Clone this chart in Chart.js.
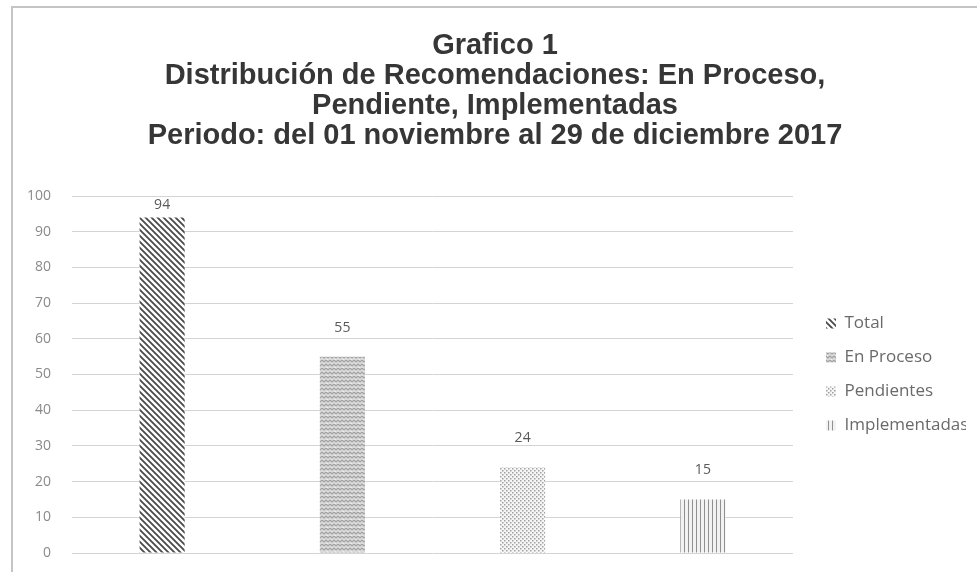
<!DOCTYPE html>
<html lang="es">
<head>
<meta charset="utf-8">
<script src="https://cdn.jsdelivr.net/npm/chart.js@4.4.0/dist/chart.umd.min.js"></script>
<style>
    html, body { margin: 0; padding: 0; background: #fff; }
    #wrap { width: 977px; height: 572px; position: relative; }
</style>
</head>
<body>
<div id="wrap"><canvas id="grafico"></canvas></div>
<script>
// Datos del grafico
const categorias = ['Total', 'En Proceso', 'Pendientes', 'Implementadas'];
const valores = [94, 55, 24, 15];
const ticksY = [0, 10, 20, 30, 40, 50, 60, 70, 80, 90, 100];
const titulo = [
    'Grafico 1',
    'Distribución de Recomendaciones: En Proceso,',
    'Pendiente, Implementadas',
    'Periodo: del 01 noviembre al 29 de diciembre 2017'
];

// Tramas (patterns) tipo Excel
function makePattern(size, draw) {
    const c = document.createElement('canvas');
    c.width = size; c.height = size;
    const g = c.getContext('2d');
    draw(g, size);
    return g.createPattern(c, 'repeat');
}

const tramaDiagonal = makePattern(6, (g, s) => {
    g.fillStyle = '#ffffff';
    g.fillRect(0, 0, s, s);
    g.strokeStyle = '#4a4a4a';
    g.lineWidth = 1.8;
    g.beginPath();
    g.moveTo(-1, -1); g.lineTo(s + 1, s + 1);
    g.moveTo(-1, s - 1); g.lineTo(1, s + 1);
    g.moveTo(s - 1, -1); g.lineTo(s + 1, 1);
    g.stroke();
});

const tramaZigzag = makePattern(8, (g, s) => {
    g.fillStyle = '#dadada';
    g.fillRect(0, 0, s, s);
    g.strokeStyle = '#a2a2a2';
    g.lineWidth = 1.2;
    g.beginPath();
    g.moveTo(0, 2); g.lineTo(2, 0); g.lineTo(4, 2); g.lineTo(6, 0); g.lineTo(8, 2);
    g.moveTo(0, 6); g.lineTo(2, 4); g.lineTo(4, 6); g.lineTo(6, 4); g.lineTo(8, 6);
    g.stroke();
    g.fillStyle = '#f2f2f2';
    g.fillRect(3, 3, 1, 1);
    g.fillRect(7, 7, 1, 1);
});

const tramaPuntos = makePattern(4, (g, s) => {
    g.fillStyle = '#f6f6f6';
    g.fillRect(0, 0, s, s);
    g.fillStyle = '#a0a0a0';
    g.fillRect(0, 0, 1.5, 1.5);
    g.fillRect(2, 2, 1.5, 1.5);
});

const tramaVertical = makePattern(4, (g, s) => {
    g.fillStyle = '#f2f2f2';
    g.fillRect(0, 0, s, s);
    g.fillStyle = '#909090';
    g.fillRect(0, 0, 1, s);
});

const tramas = [tramaDiagonal, tramaZigzag, tramaPuntos, tramaVertical];

// Un dataset por serie, cada uno con valor solo en su categoria
const datasets = categorias.map((nombre, i) => ({
    label: nombre,
    data: categorias.map((_, j) => (j === i ? valores[i] : null)),
    backgroundColor: tramas[i],
    borderWidth: 0,
    categoryPercentage: 1,
    barPercentage: 0.25
}));

// Fondo y marco
const marco = {
    id: 'marco',
    beforeDraw(chart) {
        const ctx = chart.ctx;
        ctx.save();
        ctx.fillStyle = '#ffffff';
        ctx.fillRect(0, 0, chart.width, chart.height);
        ctx.strokeStyle = '#c4c4c4';
        ctx.lineWidth = 2;
        ctx.beginPath();
        ctx.moveTo(12, chart.height);
        ctx.lineTo(12, 7);
        ctx.lineTo(chart.width, 7);
        ctx.stroke();
        ctx.restore();
    }
};

// Etiquetas de valor sobre las barras
const etiquetas = {
    id: 'etiquetas',
    afterDatasetsDraw(chart) {
        const ctx = chart.ctx;
        ctx.save();
        ctx.font = '14px "Open Sans", sans-serif';
        ctx.fillStyle = '#595959';
        ctx.textAlign = 'center';
        ctx.textBaseline = 'middle';
        chart.data.datasets.forEach((ds, i) => {
            const meta = chart.getDatasetMeta(i);
            meta.data.forEach((bar, j) => {
                const v = ds.data[j];
                if (v == null) return;
                const y = Math.max(bar.y - 29, chart.chartArea.top + 9);
                ctx.fillText(String(v), bar.x, y);
            });
        });
        ctx.restore();
    }
};

new Chart(document.getElementById('grafico'), {
    type: 'bar',
    data: { labels: categorias, datasets: datasets },
    plugins: [marco, etiquetas],
    options: {
        responsive: true,
        maintainAspectRatio: false,
        animation: false,
        layout: { padding: { left: 24, right: 11, top: 0, bottom: 0 } },
        datasets: { bar: { grouped: false, skipNull: true } },
        plugins: {
            tooltip: { enabled: false },
            title: {
                display: true,
                text: titulo,
                color: '#363636',
                font: { family: '"Liberation Sans", Arial, sans-serif', size: 29, weight: 'bold', lineHeight: 30 / 29 },
                padding: { top: 31, bottom: 45 }
            },
            legend: {
                position: 'right',
                align: 'center',
                fullSize: false,
                labels: {
                    boxWidth: 10,
                    boxHeight: 10,
                    padding: 17,
                    color: '#6a6a6a',
                    font: { family: '"Open Sans", sans-serif', size: 17 }
                }
            }
        },
        scales: {
            x: { display: false },
            y: {
                min: 0,
                max: 100,
                afterBuildTicks: (axis) => { axis.ticks = ticksY.map(v => ({ value: v })); },
                afterFit: (axis) => {
                    axis.width = 48;
                    axis.paddingBottom = 19;
                },
                border: { display: false },
                grid: { color: '#d4d4d4', drawTicks: false },
                ticks: {
                    padding: 21,
                    color: '#8a8a8a',
                    font: { family: '"Open Sans", sans-serif', size: 14 }
                }
            },
            // eje vacio a la derecha: solo separa la leyenda del area del grafico
            yHueco: {
                position: 'right',
                min: 0,
                max: 100,
                grid: { display: false },
                border: { display: false },
                ticks: { display: false },
                afterFit: (axis) => {
                    axis.width = 16;
                    axis.paddingTop = 0;
                    axis.paddingBottom = 0;
                }
            }
        }
    }
});
</script>
</body>
</html>
